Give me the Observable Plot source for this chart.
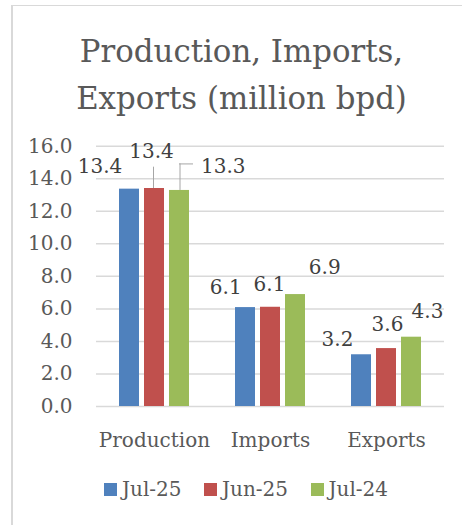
<!DOCTYPE html>
<html>
<head>
<meta charset="utf-8">
<script src="https://cdn.jsdelivr.net/npm/d3@7"></script>
<script src="https://cdn.jsdelivr.net/npm/@observablehq/plot@0.6"></script>
<style>
  html, body { margin: 0; padding: 0; background: #fff; overflow: hidden; }
  #wrap { position: relative; width: 462px; height: 525px; overflow: hidden; font-family: "DejaVu Serif", serif; }
  #frame { position: absolute; left: 11px; top: 5px; width: 480px; height: 560px;
           border-left: 2px solid #d9d9d9; border-top: 1.3px solid #d9d9d9; }
  #title { position: absolute; left: 20px; width: 443px; top: 28px; margin: 0; text-align: center;
           font-size: 30.8px; line-height: 46.5px; font-weight: normal; color: #595959; }
  #chart { position: absolute; left: 0; top: 130px; }
  #legend { position: absolute; left: 104px; top: 477px; }
  #legend .lg-swatches { font-family: "DejaVu Serif", serif; font-size: 20px; color: #595959;
                         margin: 0; min-height: 0; }
  #legend .lg-swatch { margin-right: 22.5px; }
  #legend .lg-swatch > svg { margin-right: 5px; }
</style>
</head>
<body>
<div id="wrap">
  <div id="frame"></div>
  <h2 id="title">Production, Imports,<br>Exports (million bpd)</h2>
  <div id="chart"></div>
  <div id="legend"></div>
</div>
<script>
// ---- data ----
const categories = ["Production", "Imports", "Exports"];
const series = ["Jul-25", "Jun-25", "Jul-24"];
const jul25 = [13.36, 6.08, 3.18];
const jun25 = [13.40, 6.10, 3.56];
const jul24 = [13.28, 6.88, 4.26];
const yTicks = [0, 2, 4, 6, 8, 10, 12, 14, 16];
const colors = ["#4F81BD", "#C0504D", "#9BBB59"];

// ---- label placement (style only, pixels relative to bar top) ----
const labelDx = [[-29.5, -3, 43.8], [-19.8, -1, 29.2], [-24, 1, 16]];
const labelDy = [[-23, -37, -24], [-19.5, -22.5, -26.5], [-15.5, -24, -25.7]];
// leader lines: rise in value units above bar top
const leaderStyle = [
  {category: "Production", series: "Jun-25", rise: 1.31, hook: false, dx: -1},
  {category: "Production", series: "Jul-24", rise: 1.63, hook: true, dx: 0.5}
];

const seriesValues = [jul25, jun25, jul24];
const table = categories.flatMap((c, i) =>
  series.map((s, j) => ({category: c, series: s, value: seriesValues[j][i]})));

const leaderData = leaderStyle.map(l => {
  const row = table.find(d => d.category === l.category && d.series === l.series);
  return {...l, value: row.value, top: row.value + l.rise};
});

const labelMarks = [];
categories.forEach((c, i) => {
  series.forEach((s, j) => {
    labelMarks.push(Plot.text(table.filter(d => d.category === c && d.series === s), {
      fx: "category", x: "series", y: "value",
      text: d => d.value.toFixed(1),
      dx: labelDx[i][j], dy: labelDy[i][j],
      fill: "#404040", fontSize: 20, lineAnchor: "middle", textAnchor: "middle"
    }));
  });
});

const leaderMarks = [];
leaderData.forEach(l => {
  leaderMarks.push(Plot.ruleX([l], {
    fx: "category", x: "series", y1: "value", y2: "top",
    stroke: "#a6a6a6", strokeWidth: 1, dx: l.dx
  }));
  if (l.hook) {
    leaderMarks.push(Plot.tickY([l], {
      fx: "category", x: "series", y: "top",
      stroke: "#a6a6a6", strokeWidth: 1, insetLeft: 6, dx: 4
    }));
  }
});

const chart = Plot.plot({
  width: 462,
  height: 330,
  marginTop: 15.7,
  marginBottom: 54,
  marginLeft: 96,
  marginRight: 18,
  style: {fontFamily: "DejaVu Serif, serif", fontSize: "20px", color: "#595959", background: "transparent", overflow: "visible"},
  fx: {domain: categories, padding: 0, label: null},
  x: {domain: series, paddingInner: 0.216, paddingOuter: 0.883, axis: null},
  y: {domain: [0, 16], axis: null},
  color: {domain: series, range: colors},
  marks: [
    Plot.ruleY(yTicks, {stroke: "#d9d9d9", strokeWidth: 1.5}),
    Plot.barY(table, {fx: "category", x: "series", y: "value", fill: "series"}),
    Plot.axisY({ticks: yTicks, tickSize: 0, tickPadding: 24, tickFormat: d => d.toFixed(1), fontSize: 20, label: null}),
    Plot.axisFx({anchor: "bottom", tickSize: 0, tickPadding: 26, fontSize: 20, label: null}),
    ...leaderMarks,
    ...labelMarks
  ]
});
document.getElementById("chart").appendChild(chart);

const legend = Plot.legend({
  color: {domain: series, range: colors, type: "ordinal"},
  legend: "swatches",
  swatchSize: 13,
  className: "lg"
});
document.getElementById("legend").appendChild(legend);
</script>
</body>
</html>
